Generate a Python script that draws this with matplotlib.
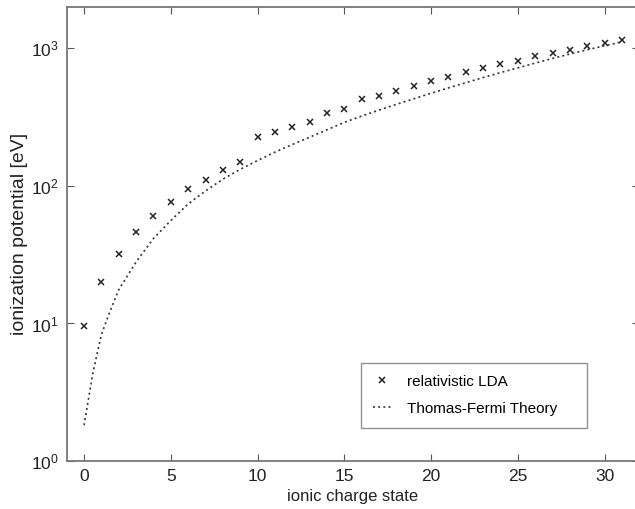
"""
Ionization potential vs ionic charge state: relativistic LDA vs Thomas-Fermi.
"""
import numpy as np
import matplotlib
matplotlib.use("Agg")
import matplotlib.pyplot as plt
from matplotlib.ticker import FixedLocator, LogFormatterMathtext, NullLocator

plt.rcParams["font.family"] = ["Liberation Sans", "DejaVu Sans"]
plt.rcParams["mathtext.fontset"] = "custom"
plt.rcParams["mathtext.rm"] = "Liberation Sans"
plt.rcParams["mathtext.it"] = "Liberation Sans:italic"

# relativistic LDA, one value per charge state 0..31 (eV)
lda_charge = list(range(32))
lda_ip = [9.6, 20, 32, 46, 60, 76, 95, 111, 130, 149,
          225, 247, 270, 292, 338, 364, 428, 452, 491, 532,
          579, 623, 674, 718, 771, 815, 877, 932, 977, 1047,
          1097, 1153]

# Thomas-Fermi curve
tf_charge = [0, 0.25, 0.5, 0.75, 1, 1.5, 2, 3, 4, 5, 6, 7, 8, 9, 10,
             11, 12, 13, 14, 15, 16, 17, 18, 19, 20, 21, 22, 23, 24, 25,
             26, 27, 28, 29, 30, 31]
tf_ip = [1.82, 2.8, 4.3, 6.0, 8.3, 12.3, 17.6, 28, 41.5, 56, 74, 92, 112,
         132, 153, 176, 200, 226, 256, 290, 322, 356, 392, 430, 472, 516,
         563, 614, 667, 722, 782, 845, 910, 978, 1045, 1115]

xticks = [0, 5, 10, 15, 20, 25, 30]
yticks = [1, 10, 100, 1000]

W, H = 635, 509
fig = plt.figure(figsize=(W / 100, H / 100), dpi=100)
# axis spans x=-1..32; right spine falls just outside the image like the original
ax = fig.add_axes([66.7 / W, 48 / H, 572.6 / W, 454 / H])

ax.plot(lda_charge, lda_ip, "x", ms=5, mew=1.1, color="#222222",
        label="relativistic LDA")
ax.plot(tf_charge, tf_ip, color="#333333", lw=1.2, ls=(0, (1.2, 1.9)),
        label="Thomas-Fermi Theory")

ax.set_yscale("log")
ax.set_xlim(-1, 32)
ax.set_ylim(1, 2000)
ax.xaxis.set_major_locator(FixedLocator(xticks))
ax.yaxis.set_major_locator(FixedLocator(yticks))
ax.yaxis.set_major_formatter(LogFormatterMathtext())
ax.yaxis.set_minor_locator(NullLocator())
ax.tick_params(direction="in", top=True, right=True, length=5,
               width=0.8, color="#555555", labelsize=12.5,
               labelcolor="#222222", pad=6)

for s in ax.spines.values():
    s.set_color("#777777")
    s.set_linewidth(1.3)

ax.set_xlabel("ionic charge state", fontsize=12, color="#222222", labelpad=3)
ax.set_ylabel("ionization potential [eV]", fontsize=14, color="#222222",
              labelpad=2)

leg = ax.legend(loc="lower left", bbox_to_anchor=(0.514, 0.0727, 0.395, 0.147),
                mode="expand", fontsize=11, frameon=True, fancybox=False,
                edgecolor="#777777", labelspacing=0.85, borderpad=0.8,
                handlelength=1.2, handletextpad=1.0, borderaxespad=0,
                markerscale=0.8)
leg.get_frame().set_linewidth(1.0)

fig.savefig("out.png", dpi=100)
